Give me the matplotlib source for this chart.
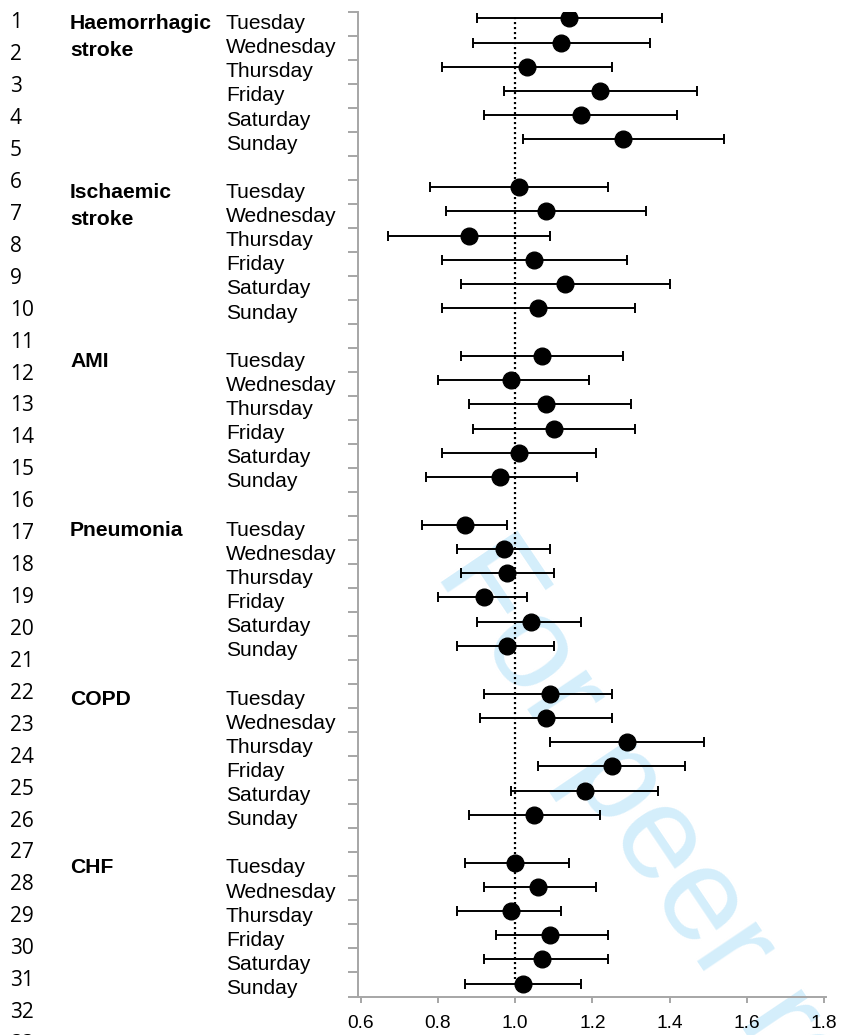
import numpy as np
import matplotlib
matplotlib.use("Agg")
import matplotlib.pyplot as plt
from matplotlib import transforms

conditions = ["Haemorrhagic\nstroke", "Ischaemic\nstroke", "AMI", "Pneumonia", "COPD", "CHF"]
days = ["Tuesday", "Wednesday", "Thursday", "Friday", "Saturday", "Sunday"]

# odds ratio vs Monday, one row per condition, one column per day
or_est = np.array([
    [1.14, 1.12, 1.03, 1.22, 1.17, 1.28],
    [1.01, 1.08, 0.88, 1.05, 1.13, 1.06],
    [1.07, 0.99, 1.08, 1.10, 1.01, 0.96],
    [0.87, 0.97, 0.98, 0.92, 1.04, 0.98],
    [1.09, 1.08, 1.29, 1.25, 1.18, 1.05],
    [1.00, 1.06, 0.99, 1.09, 1.07, 1.02],
])
ci_low = np.array([
    [0.90, 0.89, 0.81, 0.97, 0.92, 1.02],
    [0.78, 0.82, 0.67, 0.81, 0.86, 0.81],
    [0.86, 0.80, 0.88, 0.89, 0.81, 0.77],
    [0.76, 0.85, 0.86, 0.80, 0.90, 0.85],
    [0.92, 0.91, 1.09, 1.06, 0.99, 0.88],
    [0.87, 0.92, 0.85, 0.95, 0.92, 0.87],
])
ci_high = np.array([
    [1.38, 1.35, 1.25, 1.47, 1.42, 1.54],
    [1.24, 1.34, 1.09, 1.29, 1.40, 1.31],
    [1.28, 1.19, 1.30, 1.31, 1.21, 1.16],
    [0.98, 1.09, 1.10, 1.03, 1.17, 1.10],
    [1.25, 1.25, 1.49, 1.44, 1.37, 1.22],
    [1.14, 1.21, 1.12, 1.24, 1.24, 1.17],
])
xticks = [0.6, 0.8, 1.0, 1.2, 1.4, 1.6, 1.8]
line_numbers = list(range(1, 34))

W, H = 842, 1035
fig = plt.figure(figsize=(W / 100, H / 100), dpi=100)
fig.patch.set_facecolor("white")

# manuscript line numbers down the left margin
for i, n in enumerate(line_numbers):
    fig.text(10 / W, 1 - (28.3 + 31.93 * i) / H, str(n), fontsize=15,
             family="Open Sans", ha="left", va="baseline")

# "For peer review" stamp, under the plot
fig.text(434 / W, 1 - 572 / H, "For peer review", fontsize=96,
         family="Liberation Sans", color="#D4EEFB", rotation=-56,
         rotation_mode="anchor", ha="left", va="baseline", zorder=-5)

ax = fig.add_axes([358 / W, 1 - 996.5 / H, (826 - 358) / W, (996.5 - 11.7) / H])
ax.set_facecolor("none")

n_cond, n_day = or_est.shape
slots = (7 * np.arange(n_cond)[:, None] + np.arange(n_day)[None, :]).ravel()
ypos = 0.28 + 1.0045 * slots

est = or_est.ravel()
lo = ci_low.ravel()
hi = ci_high.ravel()

ax.vlines(1.0, ypos[0] - 0.06, ypos[-1] - 0.2, colors="black",
          linestyles=(0, (0.95, 1.3)), lw=1.6)
ax.errorbar(est, ypos, xerr=[est - lo, hi - est], fmt="o", color="black",
            ms=12, elinewidth=1.4, capsize=3.85, capthick=1.4, zorder=3)

gray = "#A6A6A6"
ax.set_xlim(0.593, 1.805)
ax.set_ylim(41, 0)
ax.set_yticks(np.arange(42))
ax.set_yticklabels([])
ax.set_xticks(xticks)
ax.set_xticklabels([f"{t:.1f}" for t in xticks], family="Liberation Sans", fontsize=13.8)
for side in ["top", "right"]:
    ax.spines[side].set_visible(False)
for side in ["left", "bottom"]:
    ax.spines[side].set_color(gray)
    ax.spines[side].set_linewidth(1.4)
ax.tick_params(axis="y", direction="out", length=7.2, width=1.4, color=gray)
ax.tick_params(axis="x", direction="out", length=4, width=1.4, color=gray, pad=9.5)

# condition and day labels, x in figure coords, y on the data rows
trans = transforms.blended_transform_factory(fig.transFigure, ax.transData)
for g, name in enumerate(conditions):
    y0 = ypos[g * n_day]
    for k, line in enumerate(name.split("\n")):
        ax.text(70 / W, y0 + 0.44 + k * 1.12, line, transform=trans,
                family="Liberation Sans", fontweight="bold", fontsize=15.2,
                ha="left", va="baseline", clip_on=False)
    for d, day in enumerate(days):
        ax.text(226 / W, ypos[g * n_day + d] + 0.44, day, transform=trans,
                family="Liberation Sans", fontsize=15.1,
                ha="left", va="baseline", clip_on=False)

fig.savefig("out.png", dpi=100)
